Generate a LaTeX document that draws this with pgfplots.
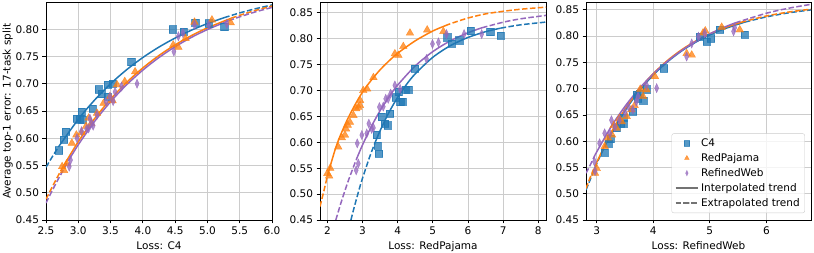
\documentclass[border=0pt]{standalone}
\usepackage{fontspec}
\setmainfont{DejaVu Sans}
\usepackage{pgfplots}
\pgfplotsset{compat=1.18}
\definecolor{cC}{RGB}{31,119,180}
\definecolor{cR}{RGB}{255,127,14}
\definecolor{cW}{RGB}{148,103,189}
\pgfplotsset{
  base/.style={
    scale only axis, height=217.5pt, anchor=south west,
    font=\fontsize{10.5}{12.6}\selectfont,
    /pgf/number format/assume math mode=true,
    grid=major, major grid style={color=black!20, line width=0.9pt},
    axis line style={line width=0.8pt},
    tick align=outside, tick pos=left, major tick length=3.5pt,
    every tick/.style={black, line width=0.8pt},
    ymin=0.45,
    ytick={0.45,0.5,0.55,0.6,0.65,0.7,0.75,0.8,0.85},
    yticklabel style={/pgf/number format/.cd, fixed, fixed zerofill, precision=2},
    legend image code/.code={\draw[mark repeat=2,mark phase=2,##1] plot coordinates {(0cm,0cm) (0.4cm,0cm) (0.8cm,0cm)};},
  },
  mC/.style={only marks, mark=square*, mark size=3.6pt, color=cC, opacity=0.75},
  mR/.style={only marks, mark=triangle*, mark size=4.4pt, color=cR, opacity=0.75},
  mW/.style={only marks, mark=diamond*, mark size=4.6pt, mark options={xscale=0.6}, color=cW, opacity=0.75},
  ln/.style={line width=1.5pt, no marks, smooth, forget plot},
  dsh/.style={ln, dash pattern=on 5.5pt off 2.4pt},
}
\begin{document}
\begin{tikzpicture}
\useasboundingbox (0,0) rectangle (814pt,253pt);
% ---------------- Panel 1 ----------------
\begin{axis}[base, at={(46pt,33pt)}, width=226pt,
  xmin=2.5, xmax=6.0, ymax=0.849,
  xtick={2.5,3.0,3.5,4.0,4.5,5.0,5.5,6.0},
  xticklabel style={/pgf/number format/.cd, fixed, fixed zerofill, precision=1},
  xlabel={Loss: C4}, ylabel={Average top-1 error: 17-task split}, ylabel shift=-4pt]
\addplot[mC] coordinates {(2.70,0.578) (2.78,0.597) (2.81,0.612) (2.97,0.636) (3.02,0.635) (3.05,0.648) (3.06,0.634) (3.22,0.654) (3.31,0.690) (3.36,0.681) (3.45,0.698) (3.45,0.676) (3.53,0.700) (3.82,0.740) (4.46,0.800) (4.63,0.796) (4.81,0.812) (5.02,0.811) (5.26,0.804)};
\addplot[mR] coordinates {(2.75,0.548) (2.78,0.541) (2.82,0.553) (2.90,0.591) (2.97,0.606) (3.05,0.610) (3.12,0.622) (3.16,0.637) (3.20,0.627) (3.29,0.646) (3.39,0.664) (3.49,0.676) (3.53,0.669) (3.60,0.698) (3.72,0.704) (3.88,0.722) (4.47,0.771) (4.55,0.767) (4.66,0.783) (4.80,0.813) (5.07,0.817) (5.36,0.812)};
\addplot[mW] coordinates {(2.86,0.548) (2.88,0.560) (2.98,0.600) (3.05,0.613) (3.13,0.617) (3.16,0.618) (3.18,0.636) (3.21,0.627) (3.23,0.623) (3.29,0.643) (3.43,0.667) (3.49,0.676) (3.54,0.668) (3.57,0.685) (3.67,0.695) (3.91,0.700) (4.48,0.759) (4.55,0.787) (4.62,0.793) (4.80,0.808) (5.02,0.808) (5.30,0.810)};
% trends
\addplot[dsh, cC] coordinates {(2.5,0.5468) (2.6,0.5665) (2.7,0.5852)};
\addplot[ln, cC] coordinates {(2.7,0.5852) (3.0,0.6347) (3.25,0.6697) (3.5,0.6999) (3.75,0.7258) (4.0,0.7481) (4.25,0.7673) (4.5,0.7838) (4.75,0.7981) (5.0,0.8103) (5.26,0.8212)};
\addplot[dsh, cC] coordinates {(5.26,0.8212) (5.5,0.8299) (5.75,0.8377) (6.0,0.8445)};
\addplot[dsh, cR] coordinates {(2.5,0.4881) (2.62,0.5160) (2.75,0.5449)};
\addplot[ln, cR] coordinates {(2.75,0.5449) (3.0,0.5937) (3.25,0.6356) (3.5,0.6716) (3.75,0.7025) (4.0,0.7290) (4.25,0.7518) (4.5,0.7713) (4.75,0.7881) (5.0,0.8025) (5.37,0.8202)};
\addplot[dsh, cR] coordinates {(5.37,0.8202) (5.5,0.8255) (5.75,0.8346) (6.0,0.8425)};
\addplot[dsh, cW] coordinates {(2.5,0.4811) (2.65,0.5162) (2.85,0.5593)};
\addplot[ln, cW] coordinates {(2.85,0.5593) (3.0,0.5880) (3.25,0.6305) (3.5,0.6669) (3.75,0.6982) (4.0,0.7250) (4.25,0.7481) (4.5,0.7679) (4.75,0.7849) (5.0,0.7994) (5.33,0.8156)};
\addplot[dsh, cW] coordinates {(5.33,0.8156) (5.5,0.8227) (5.75,0.8320) (6.0,0.8399)};
\end{axis}
% ---------------- Panel 2 ----------------
\begin{axis}[base, at={(320pt,33pt)}, width=226pt,
  xmin=1.79, xmax=8.22, ymax=0.870,
  xtick={2,3,4,5,6,7,8},
  xlabel={Loss: RedPajama}]
\addplot[mC] coordinates {(3.40,0.614) (3.43,0.594) (3.47,0.578) (3.55,0.649) (3.64,0.636) (3.71,0.633) (3.78,0.655) (3.95,0.687) (4.02,0.697) (4.07,0.678) (4.14,0.679) (4.23,0.702) (4.30,0.702) (4.49,0.742) (5.41,0.803) (5.54,0.791) (5.75,0.797) (6.08,0.815) (6.63,0.813) (6.93,0.806)};
\addplot[mR] coordinates {(2.00,0.540) (2.05,0.535) (2.08,0.550) (2.31,0.591) (2.41,0.609) (2.50,0.614) (2.53,0.626) (2.58,0.633) (2.64,0.639) (2.74,0.652) (2.82,0.665) (2.88,0.668) (2.93,0.681) (2.93,0.671) (3.02,0.700) (3.13,0.703) (3.31,0.725) (3.92,0.771) (4.02,0.768) (4.16,0.785) (4.35,0.811) (4.84,0.817) (5.30,0.814)};
\addplot[mW] coordinates {(2.82,0.546) (2.88,0.559) (2.85,0.598) (2.98,0.614) (3.12,0.617) (3.18,0.636) (3.26,0.626) (3.31,0.628) (3.48,0.668) (3.59,0.669) (3.66,0.684) (3.73,0.684) (3.80,0.694) (3.92,0.710) (4.07,0.703) (4.82,0.761) (4.99,0.790) (5.16,0.793) (5.39,0.809) (5.89,0.809) (6.39,0.809)};
\addplot[dsh, cC] coordinates {(2.67,0.45) (2.75,0.4713) (2.9,0.5082) (3.0,0.5307) (3.2,0.5713) (3.36,0.5999)};
\addplot[ln, cC] coordinates {(3.36,0.5999) (3.5,0.6224) (3.75,0.6575) (4.0,0.6869) (4.25,0.7116) (4.5,0.7323) (5.0,0.7642) (5.5,0.7867) (6.0,0.8025) (6.5,0.8136) (6.93,0.8205)};
\addplot[dsh, cC] coordinates {(6.93,0.8205) (7.5,0.8269) (8.22,0.8322)};
\addplot[dsh, cR] coordinates {(1.79,0.476) (1.9,0.506) (2.0,0.535)};
\addplot[ln, cR] coordinates {(2.0,0.535) (2.25,0.592) (2.5,0.634) (2.75,0.668) (3.0,0.697) (3.25,0.720) (3.5,0.740) (3.75,0.757) (4.0,0.772) (4.5,0.796) (5.0,0.815) (5.35,0.825)};
\addplot[dsh, cR] coordinates {(5.35,0.825) (5.5,0.829) (6.0,0.840) (6.5,0.848) (7.0,0.853) (7.5,0.857) (8.22,0.861)};
\addplot[dsh, cW] coordinates {(2.24,0.45) (2.4,0.4860) (2.6,0.5267) (2.82,0.5662)};
\addplot[ln, cW] coordinates {(2.82,0.5662) (3.0,0.5950) (3.25,0.6304) (3.5,0.6611) (3.75,0.6875) (4.0,0.7105) (4.5,0.7475) (5.0,0.7752) (5.5,0.7960) (6.0,0.8116) (6.4,0.8212)};
\addplot[dsh, cW] coordinates {(6.4,0.8212) (7.0,0.8319) (7.5,0.8385) (8.22,0.8451)};
\end{axis}
% ---------------- Panel 3 ----------------
\begin{axis}[base, at={(586pt,33pt)}, width=225pt,
  xmin=2.81, xmax=6.79, ymax=0.864,
  xtick={3,4,5,6},
  xlabel={Loss: RefinedWeb},
  legend cell align=left,
  legend image post style={mark size=2.7pt},
  legend style={at={(rel axis cs:0.973,0.032)}, anchor=south east,
    draw=black!20, rounded corners=2pt, fill=white, fill opacity=0.8, text opacity=1,
    font=\fontsize{10.5}{12.6}\selectfont, row sep=1.5pt, inner sep=3pt}]
\addplot[mC] coordinates {(3.14,0.578) (3.21,0.595) (3.24,0.604) (3.35,0.625) (3.43,0.634) (3.47,0.645) (3.47,0.633) (3.64,0.656) (3.70,0.689) (3.73,0.682) (3.76,0.690) (3.82,0.677) (3.88,0.699) (4.19,0.739) (4.82,0.799) (4.94,0.790) (5.02,0.796) (5.18,0.812) (5.62,0.803)};
\addlegendentry{C4}
\addplot[mR] coordinates {(2.97,0.539) (3.00,0.548) (3.14,0.590) (3.20,0.606) (3.27,0.612) (3.30,0.630) (3.35,0.625) (3.40,0.643) (3.44,0.637) (3.53,0.647) (3.61,0.660) (3.67,0.668) (3.77,0.699) (3.82,0.685) (3.88,0.698) (4.03,0.723) (4.59,0.767) (4.68,0.764) (4.88,0.806) (4.92,0.810) (5.21,0.817) (5.53,0.812)};
\addlegendentry{RedPajama}
\addplot[mW] coordinates {(2.96,0.561) (2.97,0.543) (3.05,0.596) (3.14,0.615) (3.23,0.615) (3.26,0.640) (3.32,0.627) (3.40,0.640) (3.50,0.655) (3.56,0.666) (3.64,0.660) (3.70,0.675) (3.73,0.685) (3.88,0.707) (4.06,0.701) (4.59,0.761) (4.68,0.786) (4.80,0.799) (4.91,0.806) (5.42,0.809) (5.44,0.816)};
\addlegendentry{RefinedWeb}
\addplot[dsh, cC] coordinates {(2.81,0.507) (3.0,0.5572) (3.14,0.5896)};
\addplot[ln, cC] coordinates {(3.14,0.5896) (3.25,0.6127) (3.5,0.6581) (3.75,0.6955) (4.0,0.7260) (4.25,0.7510) (4.5,0.7716) (4.75,0.7884) (5.0,0.8022) (5.25,0.8136) (5.62,0.8267)};
\addplot[dsh, cC] coordinates {(5.62,0.8267) (6.0,0.8366) (6.4,0.8444) (6.79,0.8499)};
\addplot[dsh, cR] coordinates {(2.81,0.510) (2.9,0.5353) (2.97,0.5528)};
\addplot[ln, cR] coordinates {(2.97,0.5528) (3.25,0.6156) (3.5,0.6610) (3.75,0.6982) (4.0,0.7286) (4.25,0.7535) (4.5,0.7739) (4.75,0.7906) (5.0,0.8043) (5.25,0.8154) (5.55,0.8262)};
\addplot[dsh, cR] coordinates {(5.55,0.8262) (6.0,0.8383) (6.4,0.8459) (6.79,0.8513)};
\addplot[dsh, cW] coordinates {(2.81,0.539) (2.9,0.5580) (2.97,0.5739)};
\addplot[ln, cW] coordinates {(2.97,0.5739) (3.25,0.6268) (3.5,0.6663) (3.75,0.6998) (4.0,0.7282) (4.25,0.7522) (4.5,0.7725) (4.75,0.7898) (5.0,0.8043) (5.25,0.8167) (5.45,0.8252)};
\addplot[dsh, cW] coordinates {(5.45,0.8252) (6.0,0.8435) (6.4,0.8532) (6.79,0.8605)};
\addlegendimage{black!55, line width=1.5pt}
\addlegendentry{Interpolated trend}
\addlegendimage{black!55, line width=1.5pt, dash pattern=on 5.5pt off 2.4pt}
\addlegendentry{Extrapolated trend}
\end{axis}
\end{tikzpicture}
\end{document}
